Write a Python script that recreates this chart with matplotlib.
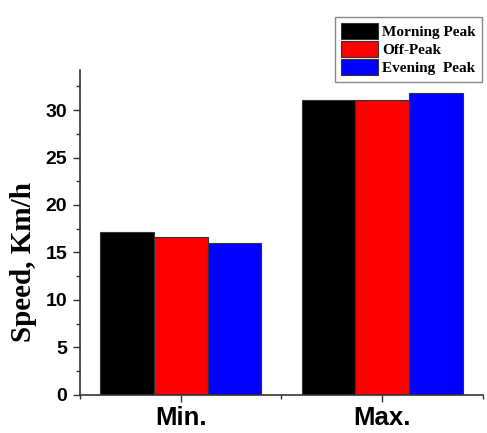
import matplotlib.pyplot as plt
import numpy as np
from matplotlib.ticker import MultipleLocator

# speed per peak period, km/h
categories = ['Min.', 'Max.']
series = ['Morning Peak', 'Off-Peak', 'Evening  Peak']
morning = [17.2, 31.1]
offpeak = [16.6, 31.1]
evening = [16.0, 31.8]
colors = ['black', 'red', 'blue']

fig = plt.figure(figsize=(4.87, 4.33), dpi=100)
ax = fig.add_axes([0.164, 0.088, 0.828, 0.75])

x = np.arange(len(categories))
w = 0.267
for i, (vals, lab, c) in enumerate(zip([morning, offpeak, evening], series, colors)):
    ax.bar(x + (i - 1) * w, vals, w, color=c, edgecolor='#333333', linewidth=0.8, label=lab)

ax.set_xlim(-0.5, 1.5)
ax.set_ylim(0, 34.2)
ax.set_xticks(x)
ax.set_xticklabels(categories, fontfamily='Liberation Sans', fontweight='bold', fontsize=18.5)
ax.xaxis.set_minor_locator(MultipleLocator(0.5))
ax.yaxis.set_major_locator(MultipleLocator(5))
ax.yaxis.set_minor_locator(MultipleLocator(2.5))
for t in ax.get_yticklabels():
    t.set_fontfamily('Liberation Sans')
    t.set_fontweight('bold')
    t.set_fontsize(14)

ax.tick_params(which='major', length=5, width=1, color='#333333')
ax.tick_params(which='minor', length=3, width=1, color='#333333')
ax.tick_params(axis='y', pad=4)
ax.tick_params(axis='x', pad=3)
ax.spines['top'].set_visible(False)
ax.spines['right'].set_visible(False)
for s in ['left', 'bottom']:
    ax.spines[s].set_linewidth(1.2)
    ax.spines[s].set_color('#333333')

ax.set_ylabel('Speed, Km/h', fontfamily='Liberation Serif', fontweight='bold', fontsize=21)
ax.yaxis.set_label_coords(-0.107, 0.41)

leg = ax.legend(loc='upper left', bbox_to_anchor=(335 / 487, 1 - 17 / 433), bbox_transform=fig.transFigure,
                prop={'family': 'Liberation Serif', 'weight': 'bold', 'size': 11},
                handlelength=2.4, handleheight=1.25, labelspacing=0.12, handletextpad=0.3,
                borderpad=0.4, fancybox=False, framealpha=1, edgecolor='#888888', borderaxespad=0)
leg.get_frame().set_linewidth(1.0)

fig.savefig('out.png', dpi=100)
